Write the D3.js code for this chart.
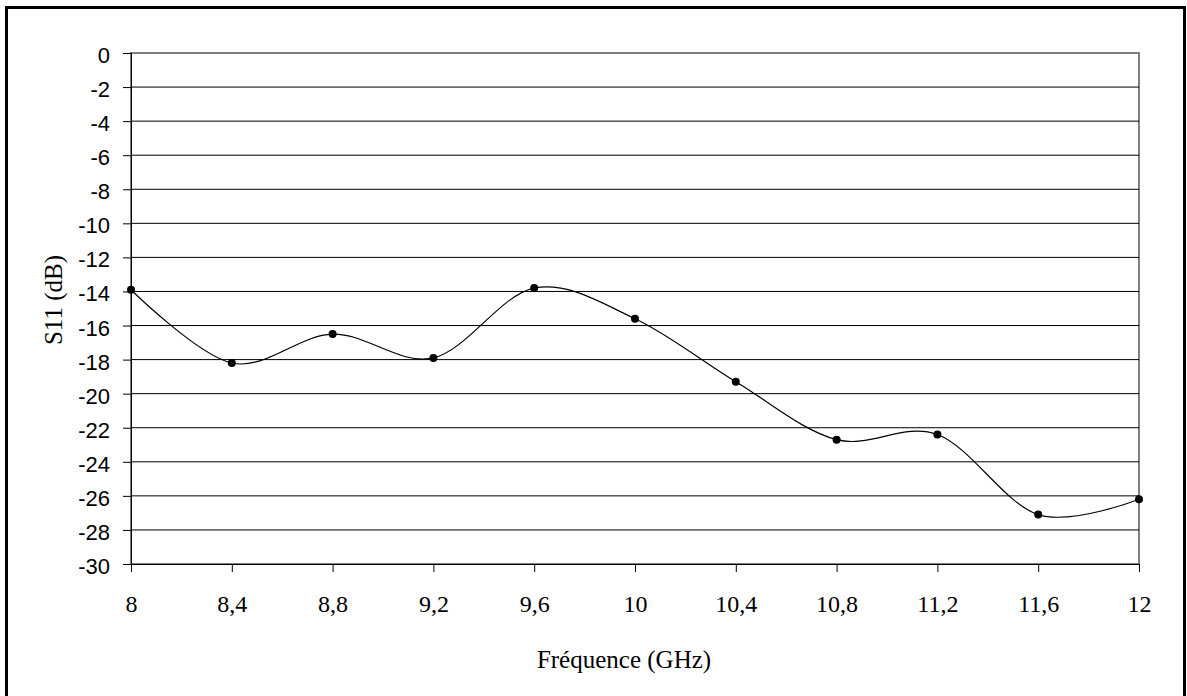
<!DOCTYPE html>
<html>
<head>
<meta charset="utf-8">
<script src="https://cdn.jsdelivr.net/npm/d3@7"></script>
<style>
  html, body { margin: 0; padding: 0; background: #fff; }
  svg { display: block; }
</style>
</head>
<body>
<svg id="chart" width="1187" height="696"></svg>
<script>
// Reflection coefficient S11 versus frequency
const freqLabels = ["8", "8,4", "8,8", "9,2", "9,6", "10", "10,4", "10,8", "11,2", "11,6", "12"];
const s11Values  = [-13.9, -18.2, -16.5, -17.9, -13.8, -15.6, -19.3, -22.7, -22.4, -27.1, -26.2];
const yTicks     = [0, -2, -4, -6, -8, -10, -12, -14, -16, -18, -20, -22, -24, -26, -28, -30];

const svg = d3.select("#chart");

const plot = { left: 131, right: 1139, top: 53, bottom: 564 };

const x = d3.scalePoint().domain(freqLabels).range([plot.left, plot.right]);
const y = d3.scaleLinear().domain([-30, 0]).range([plot.bottom, plot.top]);

// outer frame
svg.append("rect")
  .attr("x", 6.5).attr("y", 7.5)
  .attr("width", 1178).attr("height", 700)
  .attr("fill", "#fff")
  .attr("stroke", "#000")
  .attr("stroke-width", 3);

// plot area border
svg.append("rect")
  .attr("x", plot.left).attr("y", plot.top)
  .attr("width", plot.right - plot.left)
  .attr("height", plot.bottom - plot.top)
  .attr("fill", "none")
  .attr("stroke", "#808080")
  .attr("stroke-width", 2);

// horizontal gridlines
svg.append("g")
  .selectAll("line")
  .data(yTicks.filter(d => d !== 0 && d !== -30))
  .join("line")
  .attr("x1", plot.left).attr("x2", plot.right)
  .attr("y1", d => y(d)).attr("y2", d => y(d))
  .attr("stroke", "#000")
  .attr("stroke-width", 1);

// y axis
const yAxis = svg.append("g")
  .attr("transform", `translate(${plot.left},0)`)
  .call(d3.axisLeft(y).tickValues(yTicks).tickSize(8).tickPadding(13).tickFormat(d => String(d)));
yAxis.select(".domain").attr("stroke", "#000");
yAxis.selectAll(".tick line").attr("stroke", "#000");
yAxis.selectAll("text")
  .attr("font-family", "'Liberation Sans', Arial, sans-serif")
  .attr("font-size", 22)
  .attr("fill", "#000")
  .attr("dy", "0.43em");

// x axis
const xAxis = svg.append("g")
  .attr("transform", `translate(0,${plot.bottom})`)
  .call(d3.axisBottom(x).tickSize(8).tickSizeOuter(0));
xAxis.select(".domain").attr("stroke", "#000");
xAxis.selectAll(".tick line").attr("stroke", "#000");
xAxis.selectAll("text")
  .attr("font-family", "'Liberation Serif', 'Times New Roman', serif")
  .attr("font-size", 24)
  .attr("fill", "#000")
  .attr("y", 48)
  .attr("dy", null);

// smoothed curve
const line = d3.line()
  .x((d, i) => x(freqLabels[i]))
  .y(d => y(d))
  .curve(d3.curveCardinal.tension(0));

svg.append("path")
  .datum(s11Values)
  .attr("d", line)
  .attr("fill", "none")
  .attr("stroke", "#000")
  .attr("stroke-width", 1.2);

// markers
svg.append("g")
  .selectAll("circle")
  .data(s11Values)
  .join("circle")
  .attr("cx", (d, i) => x(freqLabels[i]))
  .attr("cy", d => y(d))
  .attr("r", 4)
  .attr("fill", "#000");

// axis titles
svg.append("text")
  .attr("x", 624).attr("y", 668)
  .attr("text-anchor", "middle")
  .attr("font-family", "'Liberation Serif', 'Times New Roman', serif")
  .attr("font-size", 25)
  .attr("fill", "#000")
  .text("Fréquence (GHz)");

svg.append("text")
  .attr("transform", "translate(62,300) rotate(-90)")
  .attr("text-anchor", "middle")
  .attr("font-family", "'Liberation Serif', 'Times New Roman', serif")
  .attr("font-size", 25)
  .attr("fill", "#000")
  .text("S11 (dB)");
</script>
</body>
</html>
